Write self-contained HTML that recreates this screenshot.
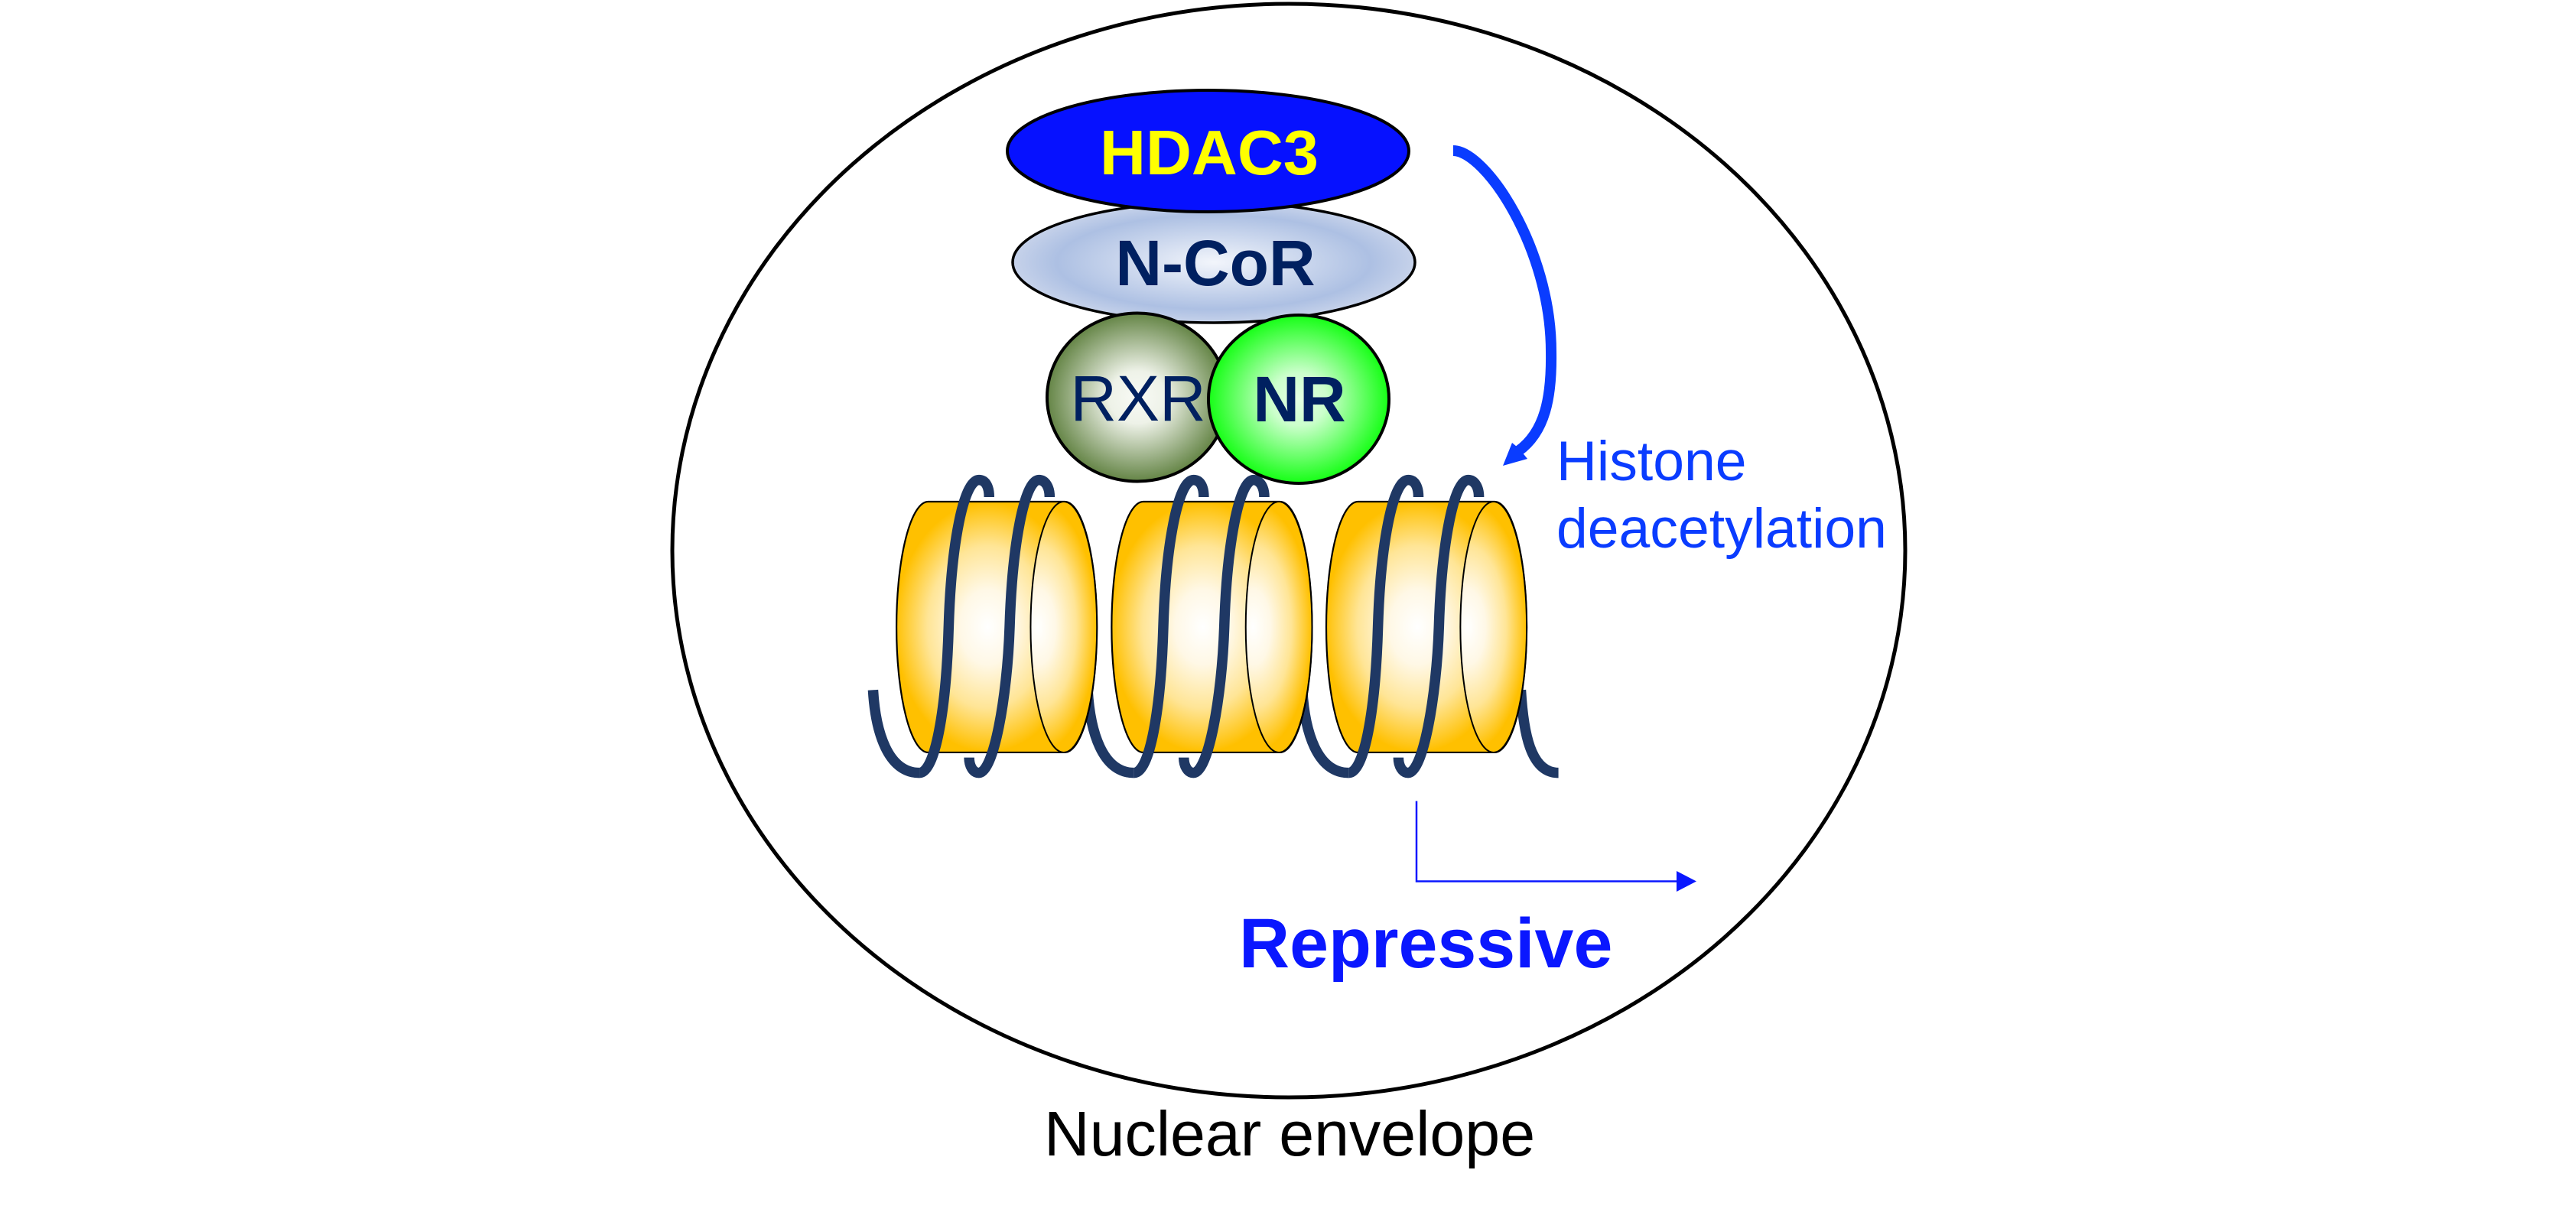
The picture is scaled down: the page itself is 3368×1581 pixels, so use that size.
<!DOCTYPE html>
<html>
<head>
<meta charset="utf-8">
<style>
html,body{margin:0;padding:0;background:#fff;width:3368px;height:1581px;overflow:hidden}
svg{display:block}
text{font-family:"Liberation Sans",Arial,sans-serif}
.ve{vector-effect:non-scaling-stroke}
</style>
</head>
<body>
<svg width="3368" height="1581" viewBox="0 0 3368 1581" xmlns="http://www.w3.org/2000/svg">
<defs>
<radialGradient id="body" gradientUnits="userSpaceOnUse" cx="0" cy="0" r="1" gradientTransform="translate(300 720) scale(190 490)">
<stop offset="0" stop-color="#fff"/><stop offset=".3" stop-color="#fff8e6"/><stop offset=".65" stop-color="#ffe596"/><stop offset="1" stop-color="#ffc000"/>
</radialGradient>
<radialGradient id="cap" gradientUnits="userSpaceOnUse" cx="0" cy="0" r="1" gradientTransform="translate(403 720) scale(121 490)">
<stop offset="0" stop-color="#fff"/><stop offset=".3" stop-color="#fff8e6"/><stop offset=".65" stop-color="#ffe596"/><stop offset="1" stop-color="#ffc000"/>
</radialGradient>
<radialGradient id="ncor" cx=".5" cy=".5" r=".5">
<stop offset="0" stop-color="#f2f5fb"/><stop offset=".78" stop-color="#adc0e3"/><stop offset="1" stop-color="#c6d2ea"/>
</radialGradient>
<radialGradient id="rxr" cx=".5" cy=".5" r=".52">
<stop offset="0" stop-color="#f8faf5"/><stop offset=".3" stop-color="#eef2e8"/><stop offset="1" stop-color="#5c7e3c"/>
</radialGradient>
<radialGradient id="nr" cx=".5" cy=".5" r=".52">
<stop offset="0" stop-color="#e4ffe4"/><stop offset=".3" stop-color="#ccffcc"/><stop offset="1" stop-color="#0bff0b"/>
</radialGradient>
<g id="tail">
<path class="ve" d="M65,967 C70,1130 95,1292 160,1292" fill="none" stroke="#1f3864" stroke-width="13.5"/>
</g>
<g id="cyl">
<path class="ve" d="M178,228 L458,228 A66,492 0 0 1 458,1212 L178,1212 A65,492 0 0 1 178,228 Z" fill="url(#body)" stroke="#000" stroke-width="2.2"/>
<ellipse class="ve" cx="456" cy="720" rx="68" ry="492" fill="url(#cap)" stroke="#000" stroke-width="2"/>
</g>
<g id="front">
<path class="ve" d="M160,1292 C192,1292 215,1050 220,720 C225,400 250,143 282,143 C296,143 303,170 303,210" fill="none" stroke="#1f3864" stroke-width="13.5"/>
<path class="ve" d="M262,1232 C262,1265 270,1292 282,1292 C312,1292 340,1000 345,720 C350,400 375,143 405,143 C418,143 427,170 427,210" fill="none" stroke="#1f3864" stroke-width="13.5"/>
</g>
</defs>

<rect width="3368" height="1581" fill="#fff"/>
<ellipse cx="1685" cy="720" rx="806" ry="715" fill="#fff" stroke="#000" stroke-width="5"/>

<g transform="translate(1100 580) scale(.6378 .3333)">
<use href="#tail"/>
<use href="#tail" x="440"/>
<use href="#tail" x="880"/>
<path class="ve" d="M1393,967 C1398,1130 1412,1292 1470,1292" fill="none" stroke="#1f3864" stroke-width="13.5"/>
<use href="#cyl"/>
<use href="#cyl" x="441"/>
<use href="#cyl" x="881"/>
<use href="#front"/>
<use href="#front" x="440"/>
<use href="#front" x="880"/>
</g>

<ellipse cx="1587" cy="343" rx="263" ry="79" fill="url(#ncor)" stroke="#000" stroke-width="3.5"/>
<ellipse cx="1579.5" cy="197.5" rx="262.5" ry="79.5" fill="#0611ff" stroke="#000" stroke-width="4"/>
<ellipse cx="1487" cy="519.5" rx="118" ry="110" fill="url(#rxr)" stroke="#000" stroke-width="4"/>
<ellipse cx="1698" cy="522" rx="118" ry="110" fill="url(#nr)" stroke="#000" stroke-width="4"/>

<text x="1581" y="228" font-size="83" font-weight="700" fill="#ffff00" text-anchor="middle">HDAC3</text>
<text x="1589" y="373" font-size="84" font-weight="700" fill="#002060" text-anchor="middle">N-CoR</text>
<text x="1488" y="550" font-size="84" fill="#002060" text-anchor="middle">RXR</text>
<text x="1699" y="551" font-size="84" font-weight="700" fill="#002060" text-anchor="middle">NR</text>

<path d="M1900,197 C1942,197 2028,325 2028,460 C2029,520 2020,565 1985,590" fill="none" stroke="#0a3cff" stroke-width="14"/>
<polygon points="1965,609 1977,579 1983,584 1993,595 1997,600" fill="#0a3cff"/>

<text x="2035" y="628" font-size="73.3" fill="#0a3cff">Histone</text>
<text x="2035" y="716" font-size="73.3" fill="#0a3cff">deacetylation</text>

<path d="M1852,1047.5 V1152.5 H2194" fill="none" stroke="#0a17ff" stroke-width="2.5"/>
<polygon points="2192,1139 2218,1152.5 2192,1166" fill="#0a17ff"/>

<text x="1620" y="1265" font-size="91.5" font-weight="700" fill="#0a17ff">Repressive</text>
<text x="1365" y="1511" font-size="82.5" fill="#000">Nuclear envelope</text>
</svg>
</body>
</html>
